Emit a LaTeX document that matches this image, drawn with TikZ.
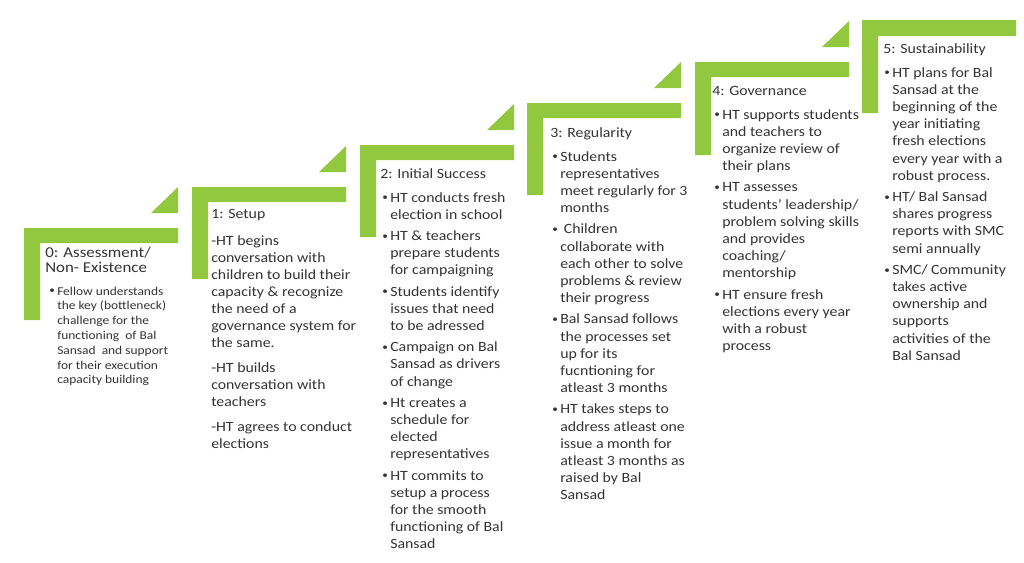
\documentclass[tikz,border=0pt]{standalone}
\usepackage{fontspec}
\setmainfont{Carlito}[FakeStretch=1.12]
\usepackage{xcolor}
\definecolor{stepgreen}{RGB}{146,200,62}
\definecolor{textgray}{RGB}{52,52,52}
\newcommand{\itm}{\makebox[6pt][l]{\raisebox{0.9pt}{\fontsize{7.5}{7.5}\selectfont\textbullet}}}
\newcommand{\cnt}{\hspace*{6pt}}

\begin{document}
\begin{tikzpicture}[x=0.75pt,y=-0.75pt,
  label/.style={anchor=base west,inner sep=0pt,text=textgray,font=\fontsize{10.6}{12.9}\selectfont}]
 \fill[white] (0,0) rectangle (1024,562);
 % stairs
 \fill[stepgreen] (24,228) rectangle (178,243) (24,228) rectangle (40,320) (151,213) -- (178,187) -- (178,213) -- cycle;
 \fill[stepgreen] (192,187) rectangle (346,202) (192,187) rectangle (208,279) (319,172) -- (346,146) -- (346,172) -- cycle;
 \fill[stepgreen] (360,145) rectangle (514,160) (360,145) rectangle (376,237) (487,130) -- (514,104) -- (514,130) -- cycle;
 \fill[stepgreen] (527,103) rectangle (681,118) (527,103) rectangle (543,195) (654,88) -- (681,62) -- (681,88) -- cycle;
 \fill[stepgreen] (695,62) rectangle (849,77) (695,62) rectangle (711,155) (822,47) -- (849,21) -- (849,47) -- cycle;
 \fill[stepgreen] (862,20) rectangle (1016,36) (862,20) rectangle (878,113);
 % 0
 \node[label,font=\fontsize{11.3}{11.8}\selectfont] (t0) at (45,257)
  {\begin{tabular}[t]{@{}l@{}}0: Assessment/\\Non- Existence\end{tabular}};
 \node[label,font=\fontsize{9}{11.1}\selectfont] (b0) at (49,295)
  {\begin{tabular}[t]{@{}l@{}}
   \itm Fellow understands\\ \cnt the key (bottleneck)\\ \cnt challenge for the\\ \cnt functioning\ \ of Bal\\
   \cnt Sansad\ \ and support\\ \cnt for their execution\\ \cnt capacity building
  \end{tabular}};
 % 1
 \node[label] (t1) at (211,218) {1: Setup};
 \node[label,font=\fontsize{10.6}{12.75}\selectfont] (b1) at (211,245)
  {\begin{tabular}[t]{@{}l@{}}
   -HT begins\\ conversation with\\ children to build their\\ capacity \& recognize\\ the need of a\\
   governance system for\\ the same.\\[6pt]
   -HT builds\\ conversation with\\ teachers\\[6pt]
   -HT agrees to conduct\\ elections
  \end{tabular}};
 % 2
 \node[label] (t2) at (380,178) {2: Initial Success};
 \node[label] (b2) at (382,202)
  {\begin{tabular}[t]{@{}l@{}}
   \itm HT conducts fresh\\ \cnt election in school\\[3pt]
   \itm HT \& teachers\\ \cnt prepare students\\ \cnt for campaigning\\[3pt]
   \itm Students identify\\ \cnt issues that need\\ \cnt to be adressed\\[3pt]
   \itm Campaign on Bal\\ \cnt Sansad as drivers\\ \cnt of change\\[3pt]
   \itm Ht creates a\\ \cnt schedule for\\ \cnt elected\\ \cnt representatives\\[3pt]
   \itm HT commits to\\ \cnt setup a process\\ \cnt for the smooth\\ \cnt functioning of Bal\\ \cnt Sansad
  \end{tabular}};
 % 3
 \node[label] (t3) at (550,137) {3: Regularity};
 \node[label] (b3) at (552,161)
  {\begin{tabular}[t]{@{}l@{}}
   \itm Students\\ \cnt representatives\\ \cnt meet regularly for 3\\ \cnt months\\[3pt]
   \itm\ Children\\ \cnt collaborate with\\ \cnt each other to solve\\ \cnt problems \& review\\ \cnt their progress\\[3pt]
   \itm Bal Sansad follows\\ \cnt the processes set\\ \cnt up for its\\ \cnt fucntioning for\\ \cnt atleast 3 months\\[3pt]
   \itm HT takes steps to\\ \cnt address atleast one\\ \cnt issue a month for\\ \cnt atleast 3 months as\\ \cnt raised by Bal\\ \cnt Sansad
  \end{tabular}};
 % 4
 \node[label] (t4) at (712,95) {4: Governance};
 \node[label] (b4) at (714,119)
  {\begin{tabular}[t]{@{}l@{}}
   \itm HT supports students\\ \cnt and teachers to\\ \cnt organize review of\\ \cnt their plans\\[3pt]
   \itm HT assesses\\ \cnt students' leadership/\\ \cnt problem solving skills\\ \cnt and provides\\ \cnt coaching/\\ \cnt mentorship\\[3pt]
   \itm HT ensure fresh\\ \cnt elections every year\\ \cnt with a robust\\ \cnt process
  \end{tabular}};
 % 5
 \node[label] (t5) at (883,53) {5: Sustainability};
 \node[label] (b5) at (884,77)
  {\begin{tabular}[t]{@{}l@{}}
   \itm HT plans for Bal\\ \cnt Sansad at the\\ \cnt beginning of the\\ \cnt year initiating\\ \cnt fresh elections\\ \cnt every year with a\\ \cnt robust process.\\[3pt]
   \itm HT/ Bal Sansad\\ \cnt shares progress\\ \cnt reports with SMC\\ \cnt semi annually\\[3pt]
   \itm SMC/ Community\\ \cnt takes active\\ \cnt ownership and\\ \cnt supports\\ \cnt activities of the\\ \cnt Bal Sansad
  \end{tabular}};
\end{tikzpicture}
\end{document}
